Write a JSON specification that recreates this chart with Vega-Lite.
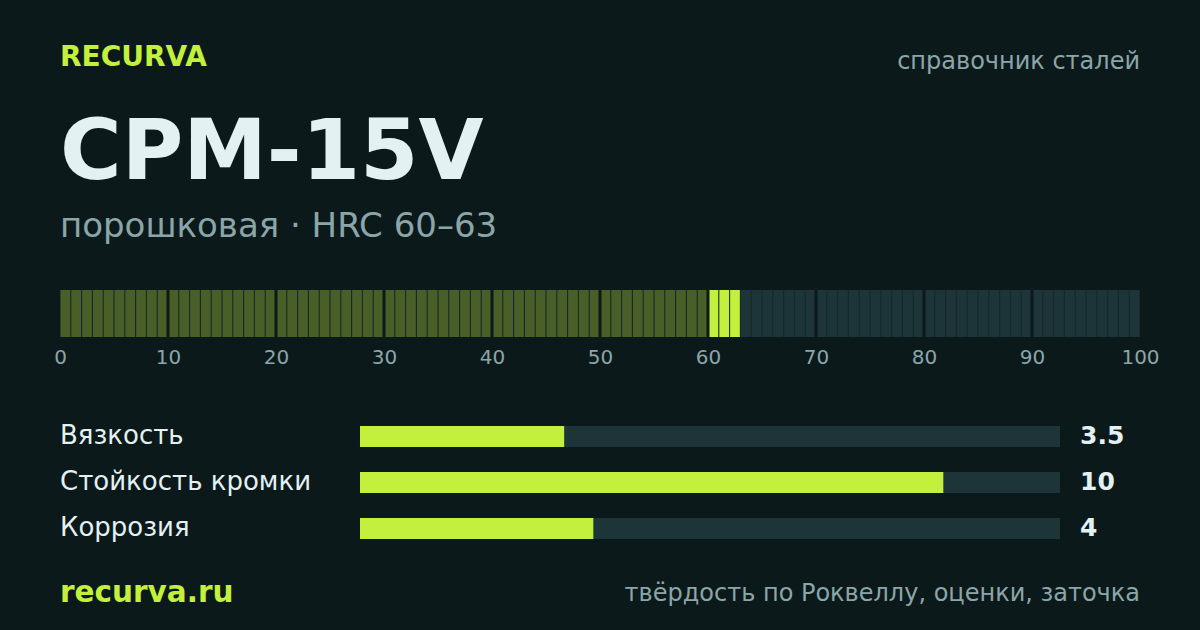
{
  "$schema": "https://vega.github.io/schema/vega-lite/v6.json",
  "background": "#0c191b",
  "padding": {"left": 53, "right": 41, "top": 0, "bottom": 0},
  "spacing": 0,
  "config": {"view": {"stroke": null}, "font": "DejaVu Sans"},
  "datasets": {
    "scores": [
      {"name": "Вязкость", "value": 3.5},
      {"name": "Стойкость кромки", "value": 10},
      {"name": "Коррозия", "value": 4}
    ],
    "cells": [
      {"i": 0, "zone": "below"}, {"i": 1, "zone": "below"}, {"i": 2, "zone": "below"}, {"i": 3, "zone": "below"}, {"i": 4, "zone": "below"},
      {"i": 5, "zone": "below"}, {"i": 6, "zone": "below"}, {"i": 7, "zone": "below"}, {"i": 8, "zone": "below"}, {"i": 9, "zone": "below"},
      {"i": 10, "zone": "below"}, {"i": 11, "zone": "below"}, {"i": 12, "zone": "below"}, {"i": 13, "zone": "below"}, {"i": 14, "zone": "below"},
      {"i": 15, "zone": "below"}, {"i": 16, "zone": "below"}, {"i": 17, "zone": "below"}, {"i": 18, "zone": "below"}, {"i": 19, "zone": "below"},
      {"i": 20, "zone": "below"}, {"i": 21, "zone": "below"}, {"i": 22, "zone": "below"}, {"i": 23, "zone": "below"}, {"i": 24, "zone": "below"},
      {"i": 25, "zone": "below"}, {"i": 26, "zone": "below"}, {"i": 27, "zone": "below"}, {"i": 28, "zone": "below"}, {"i": 29, "zone": "below"},
      {"i": 30, "zone": "below"}, {"i": 31, "zone": "below"}, {"i": 32, "zone": "below"}, {"i": 33, "zone": "below"}, {"i": 34, "zone": "below"},
      {"i": 35, "zone": "below"}, {"i": 36, "zone": "below"}, {"i": 37, "zone": "below"}, {"i": 38, "zone": "below"}, {"i": 39, "zone": "below"},
      {"i": 40, "zone": "below"}, {"i": 41, "zone": "below"}, {"i": 42, "zone": "below"}, {"i": 43, "zone": "below"}, {"i": 44, "zone": "below"},
      {"i": 45, "zone": "below"}, {"i": 46, "zone": "below"}, {"i": 47, "zone": "below"}, {"i": 48, "zone": "below"}, {"i": 49, "zone": "below"},
      {"i": 50, "zone": "below"}, {"i": 51, "zone": "below"}, {"i": 52, "zone": "below"}, {"i": 53, "zone": "below"}, {"i": 54, "zone": "below"},
      {"i": 55, "zone": "below"}, {"i": 56, "zone": "below"}, {"i": 57, "zone": "below"}, {"i": 58, "zone": "below"}, {"i": 59, "zone": "below"},
      {"i": 60, "zone": "range"}, {"i": 61, "zone": "range"}, {"i": 62, "zone": "range"}, {"i": 63, "zone": "above"}, {"i": 64, "zone": "above"},
      {"i": 65, "zone": "above"}, {"i": 66, "zone": "above"}, {"i": 67, "zone": "above"}, {"i": 68, "zone": "above"}, {"i": 69, "zone": "above"},
      {"i": 70, "zone": "above"}, {"i": 71, "zone": "above"}, {"i": 72, "zone": "above"}, {"i": 73, "zone": "above"}, {"i": 74, "zone": "above"},
      {"i": 75, "zone": "above"}, {"i": 76, "zone": "above"}, {"i": 77, "zone": "above"}, {"i": 78, "zone": "above"}, {"i": 79, "zone": "above"},
      {"i": 80, "zone": "above"}, {"i": 81, "zone": "above"}, {"i": 82, "zone": "above"}, {"i": 83, "zone": "above"}, {"i": 84, "zone": "above"},
      {"i": 85, "zone": "above"}, {"i": 86, "zone": "above"}, {"i": 87, "zone": "above"}, {"i": 88, "zone": "above"}, {"i": 89, "zone": "above"},
      {"i": 90, "zone": "above"}, {"i": 91, "zone": "above"}, {"i": 92, "zone": "above"}, {"i": 93, "zone": "above"}, {"i": 94, "zone": "above"},
      {"i": 95, "zone": "above"}, {"i": 96, "zone": "above"}, {"i": 97, "zone": "above"}, {"i": 98, "zone": "above"}, {"i": 99, "zone": "above"}
    ],
    "groups": [{"g": 10}, {"g": 20}, {"g": 30}, {"g": 40}, {"g": 50}, {"g": 60}, {"g": 70}, {"g": 80}, {"g": 90}]
  },
  "vconcat": [
    {
      "width": 1080,
      "height": 288,
      "layer": [
        {
          "data": {"values": [{"text": "RECURVA"}]},
          "mark": {"type": "text", "x": 0, "y": 66, "align": "left", "baseline": "alphabetic", "fontSize": 28, "fontWeight": "bold", "color": "#c3f03c"},
          "encoding": {"text": {"field": "text"}}
        },
        {
          "data": {"values": [{"text": "справочник сталей"}]},
          "mark": {"type": "text", "x": 1080, "y": 69, "align": "right", "baseline": "alphabetic", "fontSize": 24, "color": "#8ba6a9"},
          "encoding": {"text": {"field": "text"}}
        },
        {
          "data": {"values": [{"text": "CPM-15V"}]},
          "mark": {"type": "text", "x": 0, "y": 179, "align": "left", "baseline": "alphabetic", "fontSize": 84, "fontWeight": "bold", "color": "#e3f1f2"},
          "encoding": {"text": {"field": "text"}}
        },
        {
          "data": {"values": [{"text": "порошковая · HRC 60–63"}]},
          "mark": {"type": "text", "x": 0, "y": 237, "align": "left", "baseline": "alphabetic", "fontSize": 34, "color": "#8ba6a9"},
          "encoding": {"text": {"field": "text"}}
        }
      ]
    },
    {
      "width": 1080,
      "height": 47,
      "layer": [
        {
          "data": {"values": [{"track": "hrc"}]},
          "mark": {"type": "rect", "color": "#16292c"},
          "encoding": {
            "x": {"datum": 0, "type": "quantitative", "scale": {"domain": [0, 100], "nice": false, "zero": false},
              "axis": {"values": [0, 10, 20, 30, 40, 50, 60, 70, 80, 90, 100], "labelColor": "#8ba6a9", "labelFontSize": 20, "labelPadding": 10, "ticks": false, "domain": false, "grid": false, "title": null, "labelFlush": false, "labelOverlap": false}},
            "x2": {"datum": 100}
          }
        },
        {
          "data": {"name": "cells"},
          "mark": {"type": "rect"},
          "encoding": {
            "x": {"field": "i", "type": "ordinal", "scale": {"paddingInner": 0.1, "paddingOuter": 0.05}, "axis": null},
            "color": {"field": "zone", "type": "nominal", "scale": {"domain": ["below", "range", "above"], "range": ["#4a5e28", "#c3f03c", "#1d3439"]}, "legend": null}
          }
        },
        {
          "data": {"name": "groups"},
          "mark": {"type": "rule", "color": "#0c191b", "strokeWidth": 3},
          "encoding": {
            "x": {"field": "g", "type": "quantitative", "scale": {"domain": [0, 100], "nice": false, "zero": false}, "axis": null}
          }
        }
      ],
      "resolve": {"scale": {"x": "independent"}, "axis": {"x": "independent"}}
    },
    {
      "spacing": 0,
      "hconcat": [
        {
          "width": 300,
          "height": 182,
          "data": {"name": "scores"},
          "mark": {"type": "text", "align": "left", "baseline": "middle", "x": 0, "fontSize": 26, "color": "#e3f1f2"},
          "encoding": {
            "y": {"field": "name", "type": "nominal", "sort": null, "scale": {"type": "band", "paddingInner": 0.5435, "paddingOuter": 0.75, "align": 0.855}, "axis": null},
            "text": {"field": "name"}
          }
        },
        {
          "width": 700,
          "height": 182,
          "data": {"name": "scores"},
          "encoding": {
            "y": {"field": "name", "type": "nominal", "sort": null, "scale": {"type": "band", "paddingInner": 0.5435, "paddingOuter": 0.75, "align": 0.855}, "axis": null}
          },
          "layer": [
            {
              "mark": {"type": "bar", "color": "#1d3439"},
              "encoding": {"x": {"datum": 12, "type": "quantitative", "scale": {"domain": [0, 12], "nice": false}, "axis": null}}
            },
            {
              "mark": {"type": "bar", "color": "#c3f03c"},
              "encoding": {"x": {"field": "value", "type": "quantitative"}}
            },
            {
              "mark": {"type": "text", "align": "left", "baseline": "middle", "dx": 20, "fontSize": 25, "fontWeight": "bold", "color": "#e3f1f2"},
              "encoding": {"x": {"datum": 12, "type": "quantitative"}, "text": {"field": "value", "type": "quantitative"}}
            }
          ]
        }
      ]
    },
    {
      "width": 1080,
      "height": 83,
      "layer": [
        {
          "data": {"values": [{"text": "recurva.ru"}]},
          "mark": {"type": "text", "x": 0, "y": 53, "align": "left", "baseline": "alphabetic", "fontSize": 29.5, "fontWeight": "bold", "color": "#c3f03c"},
          "encoding": {"text": {"field": "text"}}
        },
        {
          "data": {"values": [{"text": "твёрдость по Роквеллу, оценки, заточка"}]},
          "mark": {"type": "text", "x": 1080, "y": 52, "align": "right", "baseline": "alphabetic", "fontSize": 24, "color": "#8ba6a9"},
          "encoding": {"text": {"field": "text"}}
        }
      ]
    }
  ]
}
